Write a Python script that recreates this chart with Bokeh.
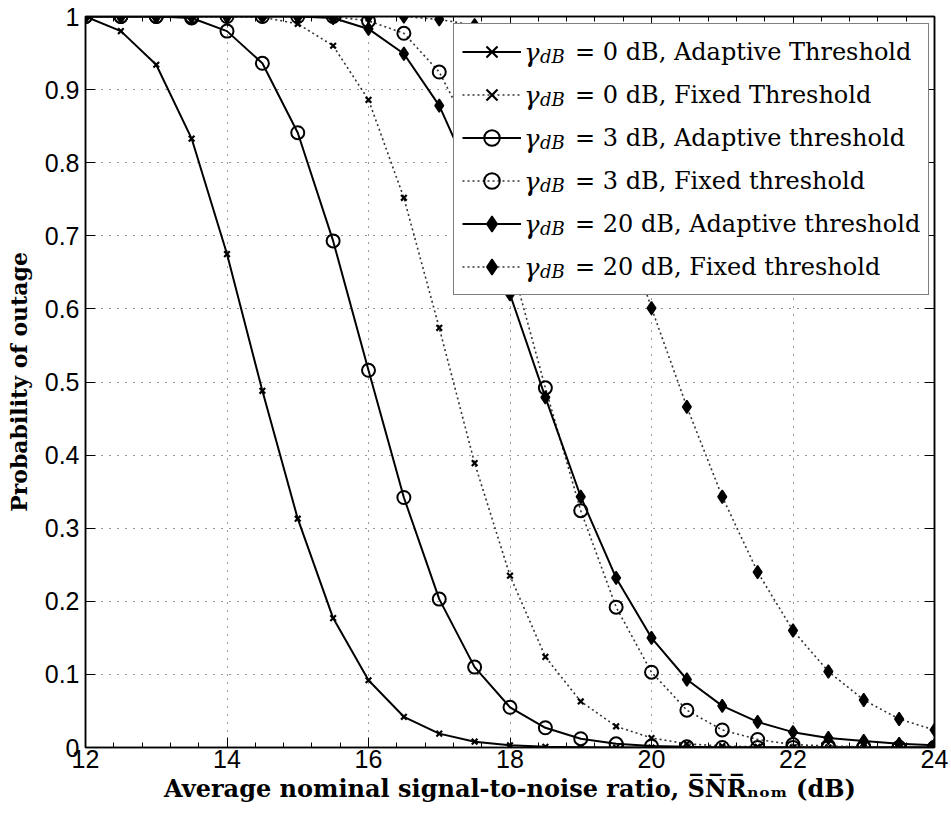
from bokeh.plotting import figure
from bokeh.models import (Range1d, SingleIntervalTicker, FixedTicker, LinearAxis,
                          Legend, LegendItem, CustomLabelingPolicy)
from bokeh.embed import file_html
from bokeh.resources import INLINE

# ---------------- data ----------------
snr = [12, 12.5, 13, 13.5, 14, 14.5, 15, 15.5, 16, 16.5, 17, 17.5, 18,
       18.5, 19, 19.5, 20, 20.5, 21, 21.5, 22, 22.5, 23, 23.5, 24]

g0_adaptive = [1.0, 0.980, 0.934, 0.833, 0.675, 0.488, 0.313, 0.177, 0.092, 0.042,
               0.019, 0.008, 0.003, 0.001, 0.0005, 0.0, 0.0, 0.0, 0.0, 0.0,
               0.0, 0.0, 0.0, 0.0, 0.0]
g0_fixed = [1.0, 1.0, 1.0, 1.0, 1.0, 0.999, 0.990, 0.960, 0.886, 0.752,
            0.574, 0.389, 0.235, 0.124, 0.063, 0.029, 0.013, 0.005, 0.002, 0.001,
            0.0, 0.0, 0.0, 0.0, 0.0]
g3_adaptive = [1.0, 1.0, 1.0, 0.998, 0.980, 0.936, 0.841, 0.693, 0.516, 0.342,
               0.203, 0.110, 0.055, 0.027, 0.012, 0.005, 0.002, 0.001, 0.0, 0.0,
               0.0, 0.0, 0.0, 0.0, 0.0]
g3_fixed = [1.0, 1.0, 1.0, 1.0, 1.0, 1.0, 1.0, 1.0, 0.994, 0.977,
            0.924, 0.83, 0.67, 0.492, 0.324, 0.192, 0.103, 0.051, 0.024, 0.011,
            0.004, 0.002, 0.001, 0.0, 0.0]
g20_adaptive = [1.0, 1.0, 1.0, 1.0, 1.0, 1.0, 1.0, 0.998, 0.983, 0.949,
                0.878, 0.77, 0.62, 0.479, 0.343, 0.232, 0.150, 0.093, 0.057, 0.035,
                0.021, 0.013, 0.009, 0.005, 0.003]
g20_fixed = [1.0, 1.0, 1.0, 1.0, 1.0, 1.0, 1.0, 1.0, 1.0, 1.0,
             0.996, 0.988, 0.972, 0.935, 0.86, 0.745, 0.601, 0.466, 0.343, 0.240,
             0.160, 0.104, 0.065, 0.039, 0.024]

series_labels = ["= 0 dB, Adaptive Threshold", "= 0 dB, Fixed Threshold",
                 "= 3 dB, Adaptive threshold", "= 3 dB, Fixed threshold",
                 "= 20 dB, Adaptive threshold", "= 20 dB, Fixed threshold"]
gamma_symbol = "\u03b3"
gamma_subscript = "dB"

y_ticks = [0, 0.1, 0.2, 0.3, 0.4, 0.5, 0.6, 0.7, 0.8, 0.9, 1]
y_tick_labels = ["0", "0.1", "0.2", "0.3", "0.4", "0.5", "0.6", "0.7", "0.8", "0.9", "1"]

x_label = "Average nominal signal-to-noise ratio, S\u0305N\u0305R\u0305\u2099\u2092\u2098 (dB)"
y_label = "Probability of outage"

# ---------------- figure ----------------
p = figure(width=951, height=816, output_backend="svg", toolbar_location=None,
           x_range=Range1d(12, 24), y_range=Range1d(0, 1),
           min_border_left=85, min_border_right=17, min_border_top=16, min_border_bottom=69)
p.background_fill_color = "white"
p.border_fill_color = "white"
p.outline_line_color = "black"
p.outline_line_width = 1.5

TICK_FONT = "Liberation Sans"
LBL_FONT = "DejaVu Serif"

p.xaxis.ticker = SingleIntervalTicker(interval=2, num_minor_ticks=5)
p.yaxis.ticker = FixedTicker(ticks=y_ticks)
p.yaxis.major_label_overrides = dict(zip(y_ticks, y_tick_labels))

for ax in (p.xaxis[0], p.yaxis[0]):
    ax.major_tick_in = 10
    ax.major_tick_out = 0
    ax.minor_tick_in = 5
    ax.minor_tick_out = 0
    ax.axis_line_width = 1.5
    ax.major_tick_line_width = 1
    ax.major_label_text_font = TICK_FONT
    ax.major_label_text_font_size = "25px"
    ax.major_label_text_color = "black"
    ax.axis_label_text_font = LBL_FONT
    ax.axis_label_text_font_style = "bold"
    ax.axis_label_text_color = "black"

p.xaxis.axis_label = x_label
p.yaxis.axis_label = y_label
p.xaxis.axis_label_text_font_size = "24px"
p.yaxis.axis_label_text_font_size = "22px"
p.xaxis.major_label_standoff = 2
p.yaxis.major_label_standoff = 6
p.xaxis.axis_label_standoff = 3
p.yaxis.axis_label_standoff = 10

# box axes (top & right) with inward ticks only, no labels
no_labels = CustomLabelingPolicy(
    code="for (const i of Array.from(indices)) { indices.unset(i) } return indices")
top = LinearAxis(ticker=SingleIntervalTicker(interval=2, num_minor_ticks=5))
right = LinearAxis(ticker=FixedTicker(ticks=y_ticks))
for ax in (top, right):
    ax.major_tick_in = 10
    ax.major_tick_out = 0
    ax.minor_tick_in = 5
    ax.minor_tick_out = 0
    ax.axis_line_width = 1.5
    ax.major_label_text_font_size = "1px"
    ax.major_label_standoff = 0
    ax.major_label_policy = no_labels
p.add_layout(top, "above")
p.add_layout(right, "right")

p.xgrid.ticker = SingleIntervalTicker(interval=2)
for g in (p.xgrid[0], p.ygrid[0]):
    g.grid_line_color = "#333333"
    g.grid_line_dash = "1 7"
    g.grid_line_width = 1

# ---------------- series ----------------
all_series = [g0_adaptive, g0_fixed, g3_adaptive, g3_fixed, g20_adaptive, g20_fixed]
markers = ["x", "x", "circle", "circle", "diamond", "diamond"]
items = []
for i, ys in enumerate(all_series):
    solid = (i % 2 == 0)
    if solid:
        lr = p.line(snr, ys, line_color="black", line_width=2)
    else:
        lr = p.line(snr, ys, line_color="#333333", line_width=1.6, line_dash="2 3")
    m = markers[i]
    if m == "x":
        sr = p.scatter(snr, ys, marker="x", size=8, line_color="black", line_width=2.2)
    elif m == "circle":
        sr = p.scatter(snr, ys, marker="circle", size=13, line_color="black",
                       line_width=2, fill_color=None)
    else:
        sr = p.scatter(snr, ys, marker="diamond", size=13, line_color="black",
                       line_width=1.5, fill_color="black")
    items.append(LegendItem(label=series_labels[i], renderers=[lr, sr]))

common = dict(padding=8, spacing=4, glyph_height=39, glyph_width=59, label_height=39,
              margin=0, label_text_font=LBL_FONT, label_text_color="black")

legend = Legend(items=items, location=(368, 452),
                label_standoff=54, label_width=340, label_text_font_size="24px",
                border_line_color="black", border_line_width=1.2,
                background_fill_color="white", background_fill_alpha=1.0, **common)
p.add_layout(legend)

# invisible carrier renderer for the gamma_dB overlay legends
carrier = p.line(snr, g0_adaptive, line_alpha=0)
gamma_items = [LegendItem(label=gamma_symbol, renderers=[carrier]) for _ in series_labels]
sub_items = [LegendItem(label=gamma_subscript, renderers=[carrier]) for _ in series_labels]

gamma_legend = Legend(items=gamma_items, location=(368, 452),
                      label_standoff=4, label_text_font_size="26px",
                      label_text_font_style="italic",
                      border_line_alpha=0, background_fill_alpha=0, **common)
sub_legend = Legend(items=sub_items, location=(368, 448),
                    label_standoff=20, label_text_font_size="18px",
                    label_text_font_style="italic",
                    border_line_alpha=0, background_fill_alpha=0, **common)
p.add_layout(gamma_legend)
p.add_layout(sub_legend)

open("out.html", "w").write(file_html(p, INLINE))
